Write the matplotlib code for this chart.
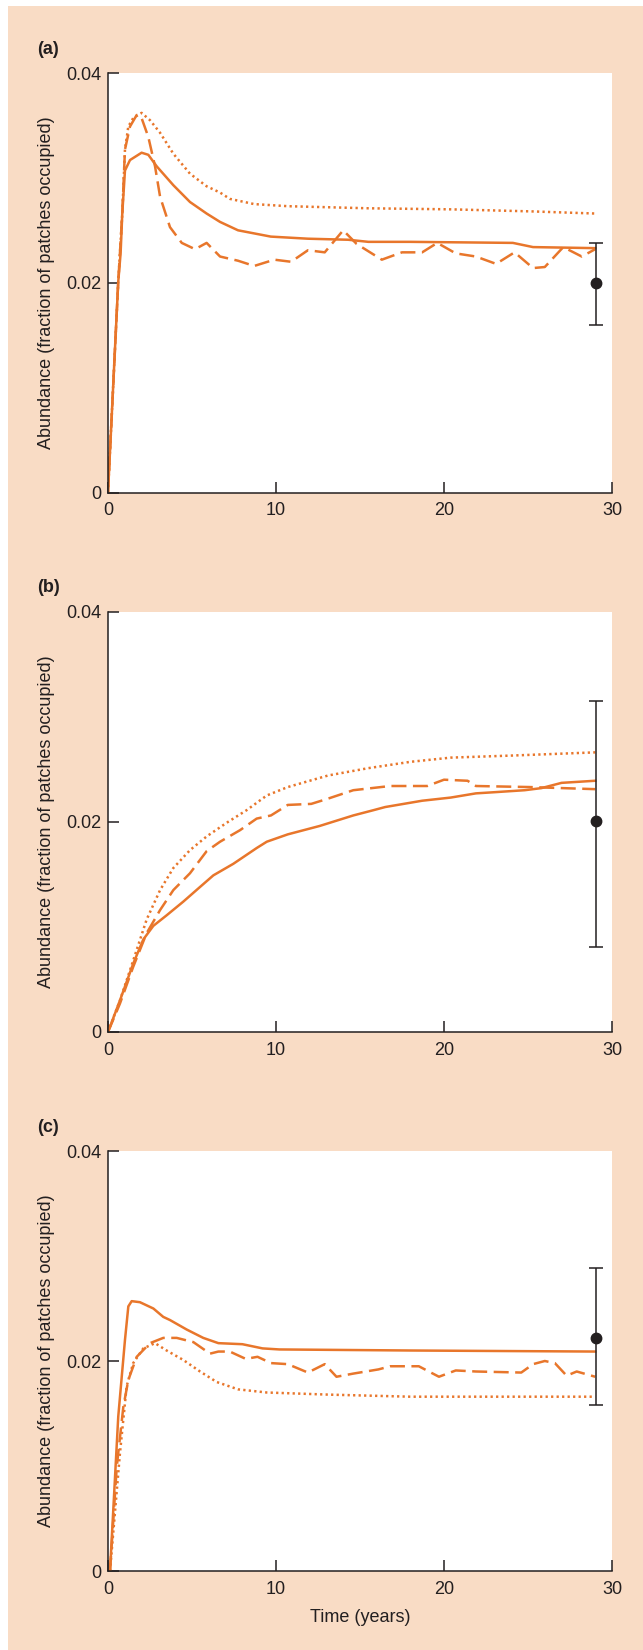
import matplotlib
matplotlib.use("Agg")
import matplotlib.pyplot as plt
from matplotlib.patches import Rectangle

plt.rcParams['font.family'] = ['Liberation Sans', 'DejaVu Sans']

ORANGE = '#E8762B'
DARK = '#231F20'
PEACH = '#F9DCC5'

# ---------------- Panel (a) ----------------
solid_a_x = [0, 0.61, 0.75, 0.85, 1.01, 1.31, 2.0, 2.4, 2.9, 3.89, 4.88, 5.87, 6.67, 7.74, 9.69, 11.9, 14.3, 15.5, 18.0, 24.1, 25.3, 29.0]
solid_a_y = [0, 0.0201, 0.0228, 0.0266, 0.0307, 0.0317, 0.0324, 0.0322, 0.0311, 0.0293, 0.0277, 0.0266, 0.0258, 0.0250, 0.0244, 0.0242, 0.0241, 0.0239, 0.0239, 0.0238, 0.0234, 0.0233]

dashed_a_x = [0, 0.61, 0.85, 1.01, 1.31, 1.71, 2.0, 2.4, 2.8, 3.1, 3.69, 4.39, 5.18, 5.87, 6.67, 7.74, 8.7, 9.9, 10.9, 11.9, 12.9, 14.0, 14.8, 16.3, 17.5, 18.7, 19.6, 20.7, 21.9, 23.1, 24.2, 25.3, 26.0, 27.1, 28.2, 29.0]
dashed_a_y = [0, 0.0201, 0.0266, 0.0327, 0.0349, 0.0360, 0.0357, 0.0339, 0.0311, 0.0282, 0.0253, 0.0238, 0.0232, 0.0238, 0.0225, 0.0221, 0.0216, 0.0222, 0.0220, 0.0231, 0.0229, 0.0250, 0.0237, 0.0222, 0.0229, 0.0229, 0.0238, 0.0228, 0.0225, 0.0218, 0.0229, 0.0214, 0.0215, 0.0234, 0.0225, 0.0232]

dotted_a_x = [0, 0.61, 0.85, 1.01, 1.21, 1.5, 2.0, 2.5, 3.1, 3.89, 4.88, 5.87, 6.67, 7.25, 8.7, 10.7, 15.5, 20.4, 25.3, 29.0]
dotted_a_y = [0, 0.0201, 0.0266, 0.0327, 0.0349, 0.0357, 0.0362, 0.0355, 0.0343, 0.0323, 0.0304, 0.0292, 0.0286, 0.0280, 0.0275, 0.0273, 0.0271, 0.0270, 0.0268, 0.0266]

obs_a = (29.07, 0.0200, 0.0040, 0.0038)   # x, y, lower err, upper err

# ---------------- Panel (b) ----------------
solid_b_x = [0, 0.71, 1.5, 2.1, 2.7, 3.49, 4.48, 5.48, 6.27, 7.46, 8.85, 9.45, 10.7, 12.6, 14.6, 15.8, 16.5, 18.7, 20.4, 21.9, 22.9, 24.8, 25.8, 27.0, 29.0]
solid_b_y = [0, 0.0030, 0.0065, 0.0088, 0.0101, 0.0111, 0.0124, 0.0138, 0.0149, 0.0160, 0.0175, 0.0181, 0.0188, 0.0196, 0.0206, 0.0211, 0.0214, 0.0220, 0.0223, 0.0227, 0.0228, 0.0230, 0.0232, 0.0237, 0.0239]

dashed_b_x = [0, 0.71, 1.5, 2.3, 3.1, 3.89, 4.88, 5.87, 6.67, 7.86, 8.85, 9.7, 10.7, 12.1, 13.1, 14.6, 16.8, 19.0, 20.0, 21.4, 21.9, 25.1, 29.0]
dashed_b_y = [0, 0.0027, 0.0062, 0.0094, 0.0116, 0.0135, 0.0151, 0.0172, 0.0181, 0.0192, 0.0203, 0.0206, 0.0216, 0.0217, 0.0222, 0.0230, 0.0234, 0.0234, 0.0240, 0.0239, 0.0234, 0.0233, 0.0231]

dotted_b_x = [0, 0.71, 1.5, 2.3, 3.1, 3.89, 4.88, 5.87, 7.06, 8.25, 9.45, 10.7, 13.1, 15.5, 18.0, 20.4, 24.1, 29.0]
dotted_b_y = [0, 0.0030, 0.0068, 0.0107, 0.0135, 0.0156, 0.0173, 0.0186, 0.0199, 0.0211, 0.0225, 0.0233, 0.0244, 0.0251, 0.0257, 0.0261, 0.0263, 0.0266]

obs_b = (29.07, 0.0201, 0.0120, 0.0114)

# ---------------- Panel (c) ----------------
solid_c_x = [0.12, 0.61, 1.01, 1.21, 1.41, 1.9, 2.7, 3.29, 3.69, 4.68, 5.67, 6.57, 8.0, 9.2, 10.2, 18.0, 29.0]
solid_c_y = [0, 0.0147, 0.0220, 0.0252, 0.0257, 0.0256, 0.0250, 0.0242, 0.0239, 0.0230, 0.0222, 0.0217, 0.0216, 0.0212, 0.0211, 0.0210, 0.0209]

dashed_c_x = [0.12, 0.52, 0.91, 1.21, 1.71, 2.5, 3.29, 4.09, 5.08, 6.07, 6.57, 7.25, 8.2, 8.9, 9.7, 10.7, 11.9, 12.9, 13.6, 14.6, 16.1, 16.8, 18.5, 19.7, 20.7, 21.9, 24.6, 25.3, 26.0, 26.6, 27.3, 27.9, 29.0]
dashed_c_y = [0, 0.0099, 0.0156, 0.0182, 0.0204, 0.0217, 0.0222, 0.0222, 0.0218, 0.0207, 0.0209, 0.0209, 0.0202, 0.0204, 0.0198, 0.0197, 0.0189, 0.0197, 0.0185, 0.0188, 0.0192, 0.0195, 0.0195, 0.0185, 0.0191, 0.0190, 0.0189, 0.0197, 0.0200, 0.0198, 0.0186, 0.0190, 0.0185]

dotted_c_x = [0.12, 0.71, 1.11, 1.5, 2.1, 2.8, 3.49, 4.48, 5.48, 6.47, 7.74, 9.45, 13.1, 18.0, 29.0]
dotted_c_y = [0, 0.0112, 0.0176, 0.0198, 0.0212, 0.0217, 0.0210, 0.0201, 0.0190, 0.0180, 0.0173, 0.0170, 0.0168, 0.0166, 0.0166]

obs_c = (29.07, 0.0222, 0.0064, 0.0067)

panel_labels = ['(a)', '(b)', '(c)']
x_ticks = [0, 10, 20, 30]
x_ticklabels = ['0', '10', '20', '30']
y_ticks = [0, 0.02, 0.04]
y_ticklabels = ['0', '0.02', '0.04']
y_label = 'Abundance (fraction of patches occupied)'
x_label = 'Time (years)'

panels = [
    (solid_a_x, solid_a_y, dashed_a_x, dashed_a_y, dotted_a_x, dotted_a_y, obs_a),
    (solid_b_x, solid_b_y, dashed_b_x, dashed_b_y, dotted_b_x, dotted_b_y, obs_b),
    (solid_c_x, solid_c_y, dashed_c_x, dashed_c_y, dotted_c_x, dotted_c_y, obs_c),
]

W, H = 643, 1650
fig = plt.figure(figsize=(W / 100, H / 100), dpi=100)
fig.patch.set_facecolor('white')
fig.add_artist(Rectangle((8 / W, 0), 1 - 8 / W, 1 - 6 / H, transform=fig.transFigure,
                         facecolor=PEACH, edgecolor='none', zorder=-10))

# axes boxes in pixels (top, bottom)
boxes = [(73, 492.5), (611.5, 1032), (1151, 1571)]
left_px, right_px = 108, 612

FS = 13
for i, ((sx, sy, dx, dy, ox, oy, obs), (top, bot)) in enumerate(zip(panels, boxes)):
    ax = fig.add_axes([left_px / W, 1 - bot / H, (right_px - left_px) / W, (bot - top) / H])
    ax.set_facecolor('white')
    ax.plot(ox, oy, color=ORANGE, lw=1.8, linestyle=(0, (0.9, 1.3)), solid_capstyle='butt')
    ax.plot(dx, dy, color=ORANGE, lw=1.8, linestyle=(0, (6.0, 2.6)), dash_capstyle='butt')
    ax.plot(sx, sy, color=ORANGE, lw=1.8, solid_joinstyle='round')
    x0, y0, lo, hi = obs
    ax.errorbar([x0], [y0], yerr=[[lo], [hi]], fmt='o', color=DARK, ms=7.5,
                elinewidth=1.1, capsize=5, capthick=1.1, zorder=5)
    ax.set_xlim(0, 30)
    ax.set_ylim(0, 0.04)
    ax.set_xticks(x_ticks)
    ax.set_xticklabels(x_ticklabels)
    ax.set_yticks(y_ticks)
    ax.set_yticklabels(y_ticklabels)
    for s in ['top', 'right']:
        ax.spines[s].set_visible(False)
    for s in ['left', 'bottom']:
        ax.spines[s].set_color(DARK)
        ax.spines[s].set_linewidth(1.1)
    ax.tick_params(direction='in', length=8, width=1.1, color=DARK, labelsize=FS,
                   labelcolor=DARK)
    ax.tick_params(axis='y', pad=5)
    ax.tick_params(axis='x', pad=7)
    ax.set_ylabel(y_label, fontsize=FS, color=DARK, va='center')
    ax.yaxis.set_label_coords(-0.123, 0.5)
    ax.text(-0.141, 1 + 24 / (bot - top), panel_labels[i], transform=ax.transAxes,
            ha='left', va='center', fontsize=FS, fontweight='bold', color=DARK)
    if i == 2:
        ax.set_xlabel(x_label, fontsize=FS, color=DARK, va='center')
        ax.xaxis.set_label_coords(0.5, -(1617 - bot) / (bot - top))

fig.savefig('out.png', dpi=100, facecolor=fig.get_facecolor())
